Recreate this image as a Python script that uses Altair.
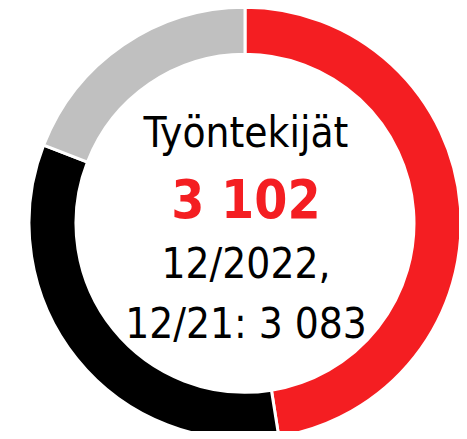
import altair as alt
import pandas as pd

categories = ["A", "B", "C"]
shares = [47.5, 33.4, 19.1]
colors = ["#F41E22", "#000000", "#C0C0C0"]

title_text = "Työntekijät"
value_text = "3 102"
date_text = "12/2022,"
prev_text = "12/21: 3 083"

df = pd.DataFrame({"cat": categories, "val": shares, "ord": [0, 1, 2]})

cx, cy = 237, 215.3
tx = 238
FONT = "DejaVu Sans Condensed, DejaVu Sans"

arc = alt.Chart(df).mark_arc(innerRadius=169, outerRadius=216, stroke="white", strokeWidth=3).encode(
    theta=alt.Theta("val:Q", stack=True),
    order=alt.Order("ord:Q"),
    color=alt.Color("cat:N", scale=alt.Scale(domain=categories, range=colors), legend=None),
    x=alt.value(cx),
    y=alt.value(cy),
)

def txt(t, y, size, color="black", weight="normal"):
    return alt.Chart(pd.DataFrame({"t": [t]})).mark_text(
        font=FONT, fontSize=size, color=color, fontWeight=weight, baseline="alphabetic", align="center"
    ).encode(text="t:N", x=alt.value(tx), y=alt.value(y))

chart = alt.layer(
    arc,
    txt(title_text, 138.7, 42),
    txt(value_text, 210.3, 53, "#F41E22", "bold"),
    txt(date_text, 270.3, 42),
    txt(prev_text, 330.3, 42),
).properties(width=451, height=423, autosize=alt.AutoSizeParams(type="none"), padding=0).configure_view(stroke=None)

chart.save("out.html", embed_options={"renderer": "svg", "actions": False})
